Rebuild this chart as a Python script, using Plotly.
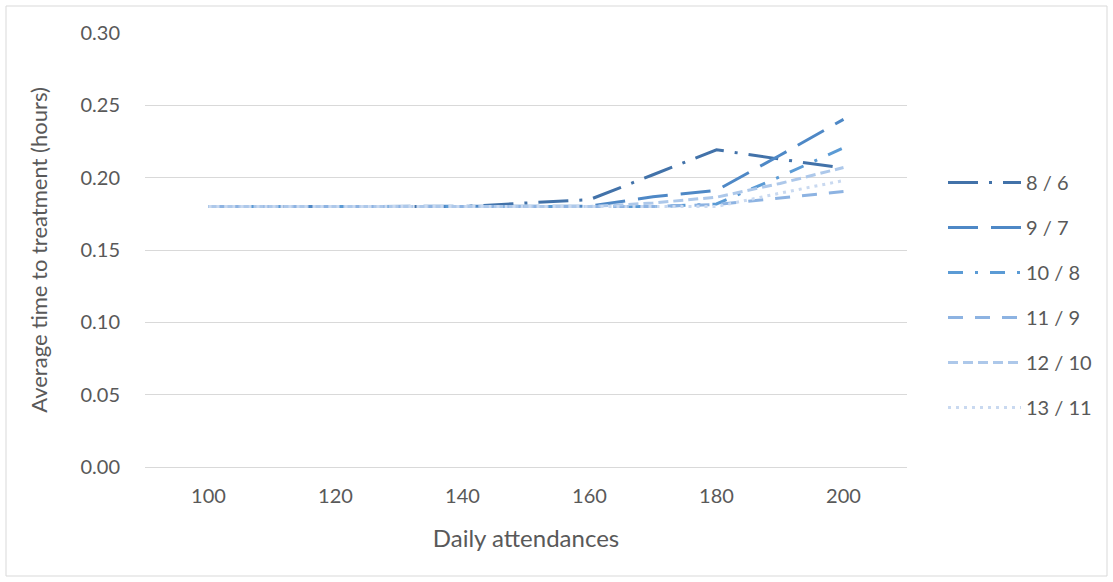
import plotly.graph_objects as go

attendances = [100, 110, 120, 130, 140, 150, 160, 170, 180, 190, 200]
series_names = ["8 / 6", "9 / 7", "10 / 8", "11 / 9", "12 / 10", "13 / 11"]
s_8_6 = [0.18, 0.18, 0.18, 0.18, 0.18, 0.1825, 0.1848, 0.202, 0.2193, 0.2128, 0.2066]
s_9_7 = [0.18, 0.18, 0.18, 0.18, 0.18, 0.18, 0.1803, 0.1868, 0.1912, 0.2155, 0.2403]
s_10_8 = [0.18, 0.18, 0.18, 0.18, 0.18, 0.18, 0.18, 0.18, 0.1818, 0.2007, 0.2206]
s_11_9 = [0.18, 0.18, 0.18, 0.18, 0.18, 0.18, 0.18, 0.18, 0.1815, 0.186, 0.1905]
s_12_10 = [0.18, 0.18, 0.18, 0.18, 0.18, 0.18, 0.18, 0.1825, 0.1865, 0.196, 0.207]
s_13_11 = [0.18, 0.18, 0.18, 0.18, 0.18, 0.18, 0.18, 0.18, 0.18, 0.1893, 0.198]
all_series = [s_8_6, s_9_7, s_10_8, s_11_9, s_12_10, s_13_11]

colors = ["#4272A9", "#4E88C6", "#5B9BD5", "#8DB3E2", "#ADC8EA", "#C9D9F0"]
dashes = ["30px,11px,3px,11px", "30px,13px", "15px,12px,3px,12px", "15px,12px", "10px,5px", "3px,5px"]

FONT = "Lato"
TXT = "#595959"

fig = go.Figure()
for name, ys, c, d in zip(series_names, all_series, colors, dashes):
    fig.add_trace(go.Scatter(
        x=attendances, y=ys, name=name, mode="lines",
        line=dict(color=c, width=3, dash=d),
        legendgroup=name,
    ))

W, H = 1113, 582
L, R, T, B = 145, 206, 33, 115
pw, ph = W - L - R, H - T - B

def px2paper(x, y):
    return (x - L) / pw, (H - B - y) / ph

x0, y0 = px2paper(6, 576)
x1, y1 = px2paper(1107, 6)

fig.update_layout(
    width=W, height=H,
    margin=dict(l=L, r=R, t=T, b=B, pad=0),
    paper_bgcolor="white", plot_bgcolor="white",
    font=dict(family=FONT, size=20, color=TXT),
    showlegend=True,
    legend=dict(
        x=(943 - L) / pw, y=(H - B - 163) / ph, xanchor="left", yanchor="top",
        font=dict(family=FONT, size=20, color=TXT),
        itemwidth=73, tracegroupgap=16, bgcolor="rgba(0,0,0,0)",
    ),
    xaxis=dict(
        range=[90, 210], tickvals=[100, 120, 140, 160, 180, 200],
        showgrid=False, zeroline=False, showline=False, ticks="",
        ticklabelstandoff=15,
        tickfont=dict(family=FONT, size=20, color=TXT),
        title=dict(text="Daily attendances", font=dict(family=FONT, size=24, color=TXT), standoff=24),
    ),
    yaxis=dict(
        range=[0, 0.3], tickvals=[0, 0.05, 0.1, 0.15, 0.2, 0.25, 0.3], tickformat=".2f",
        showgrid=True, gridcolor="#D9D9D9", gridwidth=1,
        zeroline=True, zerolinecolor="#D9D9D9", zerolinewidth=1,
        showline=False, ticks="", ticklabelstandoff=24,
        tickfont=dict(family=FONT, size=20, color=TXT),
        title=dict(text="Average time to treatment (hours)", font=dict(family=FONT, size=22, color=TXT), standoff=26),
    ),
    shapes=[dict(type="rect", xref="paper", yref="paper", x0=x0, y0=y0, x1=x1, y1=y1,
                 line=dict(color="#D9D9D9", width=1), fillcolor="rgba(0,0,0,0)", layer="below")],
)

fig.write_html("out.html")
